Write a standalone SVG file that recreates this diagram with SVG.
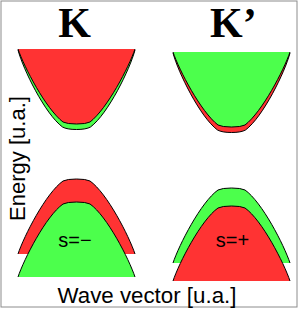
<svg xmlns="http://www.w3.org/2000/svg" width="300" height="310" viewBox="0 0 300 310">
<style>
.red{fill:#ff3333;stroke:#000;stroke-width:1}
.grn{fill:#4cff4c;stroke:#000;stroke-width:1}
.lbl{font-family:"Liberation Sans",Arial,sans-serif;fill:#000}
.kk{font-family:"Liberation Serif","Times New Roman",serif;font-weight:bold;font-size:42px;fill:#000}
</style>
<defs>
<path id="bandFront" d="M18,49 C24,67 46,109 63,122 Q67,124 76.5,124 Q86,124 90,122 C107,109 129,67 135,49"/>
<path id="bandBack" d="M18,50 C23,69 45,114 62.5,127 Q67,129.5 76.5,129.5 Q86,129.5 90.5,127 C108,114 130,69 135,50"/>
<path id="hill" d="M18,254 C24,236 46,193 63,181 Q67,179 76.5,179 Q86,179 90,181 C107,193 129,236 135,254"/>
</defs>
<rect x="1" y="1" width="296" height="306" fill="#fff" stroke="#8c8c8c" stroke-width="1"/>
<g id="K-conduction">
<use href="#bandBack" class="grn"/>
<use href="#bandFront" class="red"/>
</g>
<g id="Kp-conduction" transform="translate(155,3)">
<use href="#bandBack" class="red"/>
<use href="#bandFront" class="grn"/>
</g>
<g id="K-valence">
<use href="#hill" class="red"/>
<use href="#hill" class="grn" transform="translate(0,23)"/>
<text class="lbl" x="75" y="247" font-size="20" text-anchor="middle">s=−</text>
</g>
<g id="Kp-valence">
<use href="#hill" class="grn" transform="translate(155,9)"/>
<use href="#hill" class="red" transform="translate(155,27)"/>
<text class="lbl" x="232.5" y="247" font-size="20" text-anchor="middle">s=+</text>
</g>
<g id="labels">
<text class="kk" x="74.5" y="37" text-anchor="middle">K</text>
<text class="kk" x="210" y="37">K’</text>
<text class="lbl" font-size="22" text-anchor="middle" transform="translate(25,158.5) rotate(-90)">Energy [u.a.]</text>
<text class="lbl" x="147" y="303" font-size="22.3" text-anchor="middle">Wave vector [u.a.]</text>
</g>
</svg>
